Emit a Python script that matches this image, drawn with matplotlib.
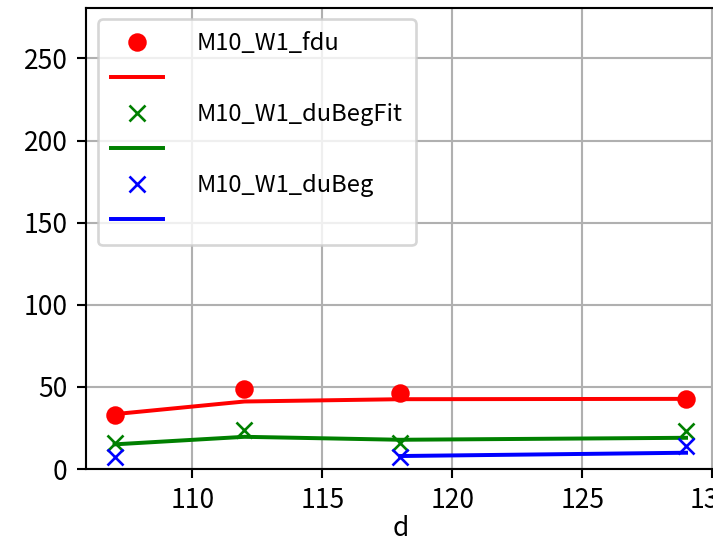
import matplotlib
matplotlib.use('Agg')
import matplotlib.pyplot as plt
import numpy as np

plt.rcParams['font.family'] = ['Noto Sans CJK SC', 'DejaVu Sans']
plt.rcParams['axes.unicode_minus'] = False

# values
d = [107, 112, 118, 129]
fdu_pts = [32.8, 48.6, 46.0, 42.7]
fdu_fit = [33.4, 41.1, 42.5, 42.7]
dubegfit_pts = [15.6, 23.7, 15.8, 23.1]
dubegfit_fit = [15.0, 19.6, 17.8, 19.0]
dubeg_pts = [7.5, np.nan, 7.5, 14.0]
dubeg_fit = [np.nan, np.nan, 7.9, 9.9]
names = ['M10_W1_fdu', 'M10_W1_duBegFit', 'M10_W1_duBeg']

DPI = 190
fig = plt.figure(figsize=(713 / DPI, 541 / DPI), dpi=DPI)
ax = fig.add_axes([86 / 713, 72 / 541, 628.6 / 713, 461.5 / 541])

m1, = ax.plot(d, fdu_pts, 'o', color='red')
l1, = ax.plot(d, fdu_fit, '-', color='red')
m2, = ax.plot(d, dubegfit_pts, 'x', color='green')
l2, = ax.plot(d, dubegfit_fit, '-', color='green')
m3, = ax.plot(d, dubeg_pts, 'x', color='blue')
l3, = ax.plot(d, dubeg_fit, '-', color='blue')

ax.set_ylim(0, 281)
ax.set_xticks([110, 115, 120, 125, 130])
ax.set_yticks([0, 50, 100, 150, 200, 250])
ax.grid(True)
ax.set_xlabel('d', labelpad=0.2)

ax.legend([m1, l1, m2, l2, m3, l3],
          [names[0], '', names[1], '', names[2], ''],
          loc='upper left', fontsize=9, handlelength=2.2,
          handletextpad=1.4, labelspacing=0.52, borderpad=0.55)

fig.savefig('out.png', dpi=DPI)
